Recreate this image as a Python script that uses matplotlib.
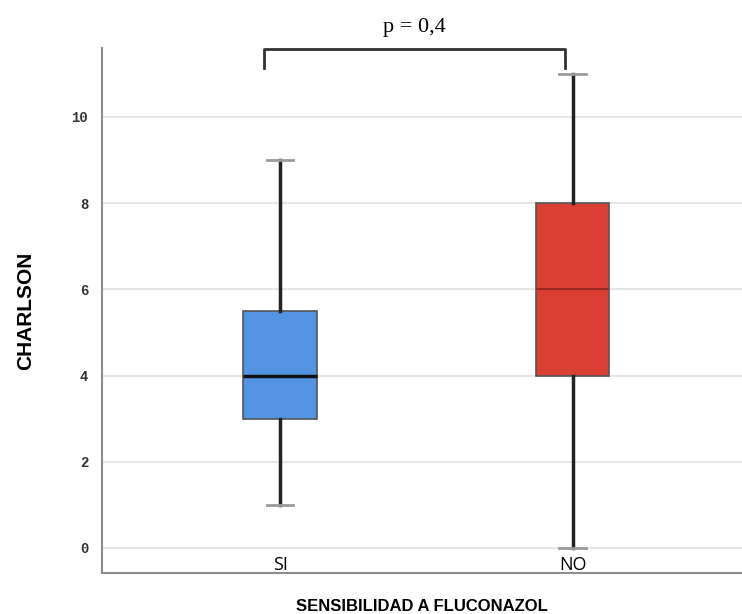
import matplotlib.pyplot as plt

# Datos
grupos = ['SI', 'NO']
minimos = [1, 0]
q1 = [3, 4]
medianas = [4, 6]
q3 = [5.5, 8]
maximos = [9, 11]
colores = ['#5294e2', '#d93f33']
p_texto = 'p = 0,4'

fig = plt.figure(figsize=(7.42, 6.14), dpi=100)
ax = fig.add_axes([0.1375, 0.0668, 0.8625, 0.855])

stats = []
for i, g in enumerate(grupos):
    stats.append(dict(label=g, whislo=minimos[i], q1=q1[i], med=medianas[i],
                      q3=q3[i], whishi=maximos[i], fliers=[]))

bp = ax.bxp(stats, positions=range(len(grupos)), widths=0.253,
            patch_artist=True, showfliers=False,
            boxprops=dict(edgecolor='#555555', linewidth=1.2),
            whiskerprops=dict(color='#222222', linewidth=2.5),
            capprops=dict(color='#9a9a9a', linewidth=2),
            capwidths=0.09)
for caja, c in zip(bp['boxes'], colores):
    caja.set_facecolor(c)
bp['medians'][0].set(color='#111111', linewidth=2.5)
bp['medians'][1].set(color='#9a2a22', linewidth=1.5)

ax.set_xlim(-0.61, 1.58)
ax.set_ylim(-0.58, 11.6)
ax.set_yticks(range(0, 11, 2))
ax.grid(axis='y', color='#e6e6e6', linewidth=1.5)
ax.set_axisbelow(True)

for s in ['top', 'right']:
    ax.spines[s].set_visible(False)
for s in ['left', 'bottom']:
    ax.spines[s].set_color('#8c8c8c')
    ax.spines[s].set_linewidth(1.5)

ax.tick_params(axis='both', length=0)
ax.tick_params(axis='y', pad=10, labelsize=10, labelcolor='#333333')
for t in ax.get_yticklabels():
    t.set_family('Liberation Mono')
    t.set_fontweight('bold')
ax.set_xticks(range(len(grupos)))
ax.set_xticklabels(grupos, family='Open Sans', fontsize=13)
ax.tick_params(axis='x', pad=-12.5)

ax.set_xlabel('SENSIBILIDAD A FLUCONAZOL', family='Liberation Sans',
              fontweight='bold', fontsize=12, labelpad=18)
ax.set_ylabel('CHARLSON', family='Liberation Sans',
              fontweight='bold', fontsize=15, labelpad=26)

# Corchete de comparacion
ax.plot([-0.055, -0.055, 0.973, 0.973], [11.14, 11.58, 11.58, 11.14],
        color='#333333', linewidth=2, clip_on=False)
ax.text(0.46, 12.07, p_texto, ha='center', va='center', fontsize=16,
        family='Liberation Serif', clip_on=False)

fig.savefig('out.png', dpi=100)
